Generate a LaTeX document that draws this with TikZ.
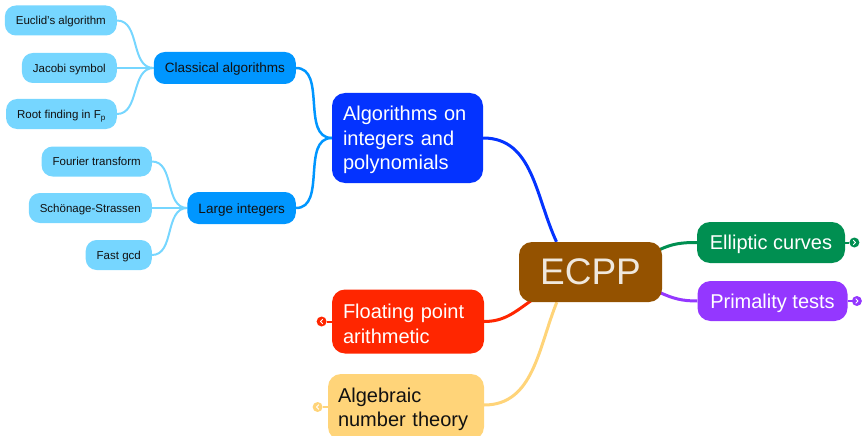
\documentclass[tikz,border=0pt]{standalone}
\usepackage{fontspec}
\setmainfont{Liberation Sans}
\usepackage{tikz}
\usetikzlibrary{positioning,backgrounds}
\definecolor{ecppbrown}{HTML}{945200}
\definecolor{ecppcream}{HTML}{EFE8DE}
\definecolor{algblue}{HTML}{0433FF}
\definecolor{midblue}{HTML}{0096FF}
\definecolor{leafblue}{HTML}{76D6FF}
\definecolor{ecgreen}{HTML}{008F51}
\definecolor{primpurple}{HTML}{9437FF}
\definecolor{fpred}{HTML}{FF2600}
\definecolor{antyellow}{HTML}{FFD479}
\definecolor{inkblack}{HTML}{111111}

\begin{document}
\begin{tikzpicture}[
 x=1pt,y=1pt,
 root/.style={fill=ecppbrown,text=ecppcream,rounded corners=13pt,minimum width=143pt,minimum height=60pt,inner sep=0pt,font=\fontsize{37}{37}\selectfont},
 topic/.style={rounded corners=13pt,text=white,inner xsep=11pt,inner ysep=0pt,text height=19pt,align=left,font=\fontsize{20}{24.5}\selectfont},
 branch/.style={fill=midblue,text=inkblack,rounded corners=11pt,minimum height=32pt,inner xsep=11pt,inner ysep=0pt,text height=13pt,text depth=3pt,font=\fontsize{13.5}{16}\selectfont},
 leaf/.style={fill=leafblue,text=inkblack,rounded corners=11pt,minimum height=30pt,inner xsep=11pt,inner ysep=0pt,text height=11pt,text depth=2.5pt,font=\fontsize{11.5}{14}\selectfont},
 link/.style={line width=3pt},
 twig/.style={line width=2.5pt,draw=midblue},
 leafline/.style={line width=2pt,draw=leafblue},
 knob/.style={circle,inner sep=0pt,minimum size=10pt},
 chev/.pic={\draw[white,line width=0.9pt,line cap=round,line join=round] (-1,2.2) -- (1.2,0) -- (-1,-2.2);}
]
\useasboundingbox (0,0) rectangle (863,-436);

% centre and main topics
\node[root] (ecpp) at (590.5,-272) {ECPP};
\node[topic,fill=algblue,text width=129pt,minimum height=90pt] (alg) at (407.5,-138) {Algorithms on\\integers and\\polynomials};
\node[topic,fill=ecgreen,minimum width=148pt,minimum height=41pt] (ell) at (771,-242.5) {Elliptic curves};
\node[topic,fill=primpurple,minimum width=150pt,minimum height=40pt] (prim) at (772.5,-301) {Primality tests};
\node[topic,fill=fpred,text width=130pt,minimum height=64pt] (float) at (408,-321.5) {Floating point\\arithmetic};
\node[topic,fill=antyellow,text=inkblack,text width=136pt,inner xsep=10pt,minimum height=66pt] (ant) at (406,-407) {Algebraic\\number theory};

% sub topics of the algorithms branch
\node[branch,anchor=east] (classical) at (296,-68) {Classical algorithms};
\node[branch,anchor=east] (large) at (296,-208) {Large integers};

\node[leaf,anchor=east] (euclid) at (117,-20.5) {Euclid’s algorithm};
\node[leaf,anchor=east] (jacobi) at (117,-68) {Jacobi symbol};
\node[leaf,anchor=east] (roots) at (117,-114) {Root finding in F\textsubscript{p}};
\node[leaf,anchor=east] (fourier) at (152,-161.5) {Fourier transform};
\node[leaf,anchor=east] (ssa) at (152,-208) {Schönage-Strassen};
\node[leaf,anchor=east] (fastgcd) at (152,-255) {Fast gcd};

% folded-branch knobs
\node[knob,fill=ecgreen,right=4pt of ell] (ell-knob) {};
\node[knob,fill=primpurple,right=4pt of prim] (prim-knob) {};
\node[knob,fill=fpred,left=5pt of float] (float-knob) {};
\node[knob,fill=antyellow,left=5pt of ant] (ant-knob) {};
\pic at (ell-knob) {chev};
\pic at (prim-knob) {chev};
\pic[xscale=-1] at (float-knob) {chev};
\pic[xscale=-1] at (ant-knob) {chev};

\coordinate (ecpp-alg) at ([xshift=-34pt]ecpp.north);
\coordinate (ecpp-ell) at ([xshift=-3pt,yshift=-8pt]ecpp.north east);
\coordinate (ecpp-prim) at ([xshift=-3pt,yshift=10pt]ecpp.south east);
\coordinate (ecpp-float) at ([xshift=13pt,yshift=2pt]ecpp.south west);
\coordinate (ecpp-ant) at ([xshift=38pt]ecpp.south west);

\begin{scope}[on background layer]
 \draw[link,algblue] (alg.east) to[out=0,in=115] (ecpp-alg);
 \draw[link,ecgreen] (ecpp-ell) to[out=25,in=180] (ell.west);
 \draw[link,primpurple] (ecpp-prim) to[out=-25,in=180] (prim.west);
 \draw[link,fpred] (ecpp-float) to[out=215,in=0] (float.east);
 \draw[link,antyellow] (ecpp-ant) to[out=248,in=0] ([yshift=2pt]ant.east);

 \draw[twig] (classical.east) to[out=0,in=180] (alg.west);
 \draw[twig] (large.east) to[out=0,in=180] (alg.west);

 \foreach \n in {euclid,jacobi,roots}
  \draw[leafline] (\n.east) to[out=0,in=180] (classical.west);
 \foreach \n in {fourier,ssa,fastgcd}
  \draw[leafline] (\n.east) to[out=0,in=180] (large.west);

 \draw[line width=2pt,ecgreen] (ell.east) -- (ell-knob);
 \draw[line width=2pt,primpurple] (prim.east) -- (prim-knob);
 \draw[line width=2pt,fpred] (float.west) -- (float-knob);
 \draw[line width=2pt,antyellow] (ant.west) -- (ant-knob);
\end{scope}
\end{tikzpicture}
\end{document}
